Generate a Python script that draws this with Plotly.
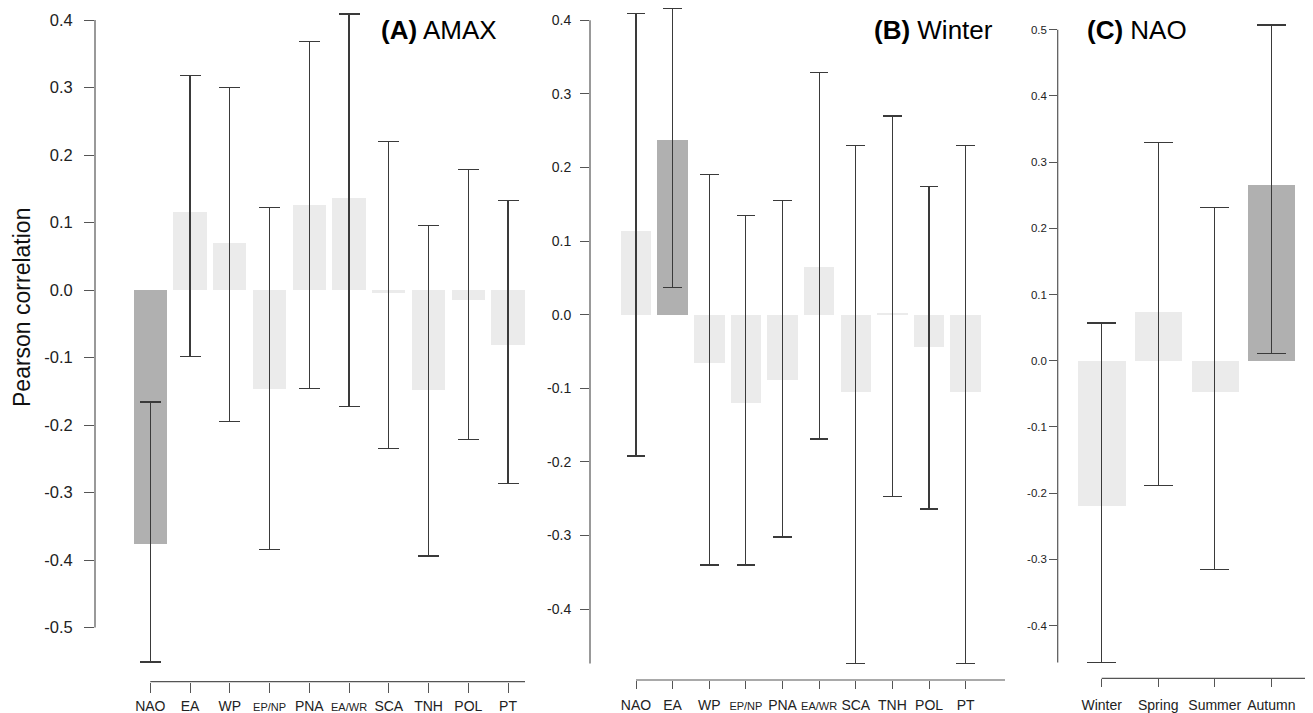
import plotly.graph_objects as go

W, H = 1313, 713
OFF = 8  # the page body margin shifts the figure by 8 px; geometry below is given in window pixels

# ---------------- data ----------------
indices = ["NAO", "EA", "WP", "EP/NP", "PNA", "EA/WR", "SCA", "TNH", "POL", "PT"]

amax_values = [-0.377, 0.115, 0.069, -0.146, 0.126, 0.137, -0.005, -0.148, -0.015, -0.082]
amax_upper = [-0.166, 0.318, 0.300, 0.122, 0.368, 0.409, 0.220, 0.096, 0.178, 0.133]
amax_lower = [-0.551, -0.098, -0.195, -0.384, -0.146, -0.173, -0.235, -0.394, -0.222, -0.287]
amax_signif = [True, False, False, False, False, False, False, False, False, False]

winter_values = [0.114, 0.237, -0.066, -0.120, -0.089, 0.065, -0.105, 0.002, -0.044, -0.105]
winter_upper = [0.409, 0.416, 0.190, 0.135, 0.155, 0.329, 0.230, 0.270, 0.174, 0.230]
winter_lower = [-0.192, 0.037, -0.340, -0.340, -0.302, -0.169, -0.474, -0.247, -0.264, -0.474]
winter_signif = [False, True, False, False, False, False, False, False, False, False]

seasons = ["Winter", "Spring", "Summer", "Autumn"]
nao_values = [-0.219, 0.073, -0.048, 0.265]
nao_upper = [0.057, 0.330, 0.231, 0.507]
nao_lower = [-0.456, -0.188, -0.315, 0.011]
nao_signif = [False, False, False, True]

ab_yticks = [0.4, 0.3, 0.2, 0.1, 0.0, -0.1, -0.2, -0.3, -0.4, -0.5]
c_yticks = [0.5, 0.4, 0.3, 0.2, 0.1, 0.0, -0.1, -0.2, -0.3, -0.4]

LIGHT = "#EBEBEB"
DARK = "#B0B0B0"
INK = "#3a3a3a"
FONT = "Liberation Sans, Arial, sans-serif"

def small(lbl):
    if "/" in lbl:
        return '<span style="font-size:11px">%s</span>' % lbl
    return lbl

def pxp(x):  # window px -> paper x
    return (x - OFF) / W

def pyp(y):  # window px -> paper y
    return 1 - (y - OFF) / H

TOP = OFF  # top of plot areas in window px

# ---------------- panel geometry (window pixels) ----------------
panels = [
    dict(labels=indices, vals=amax_values, up=amax_upper, lo=amax_lower, sig=amax_signif,
         left=95, right=525, bottom=681.7, zero=290.0, ppu=675.0, cat0=150.3, step=39.75,
         yticks=[t for t in ab_yticks], yline=(-0.5, 0.4), cap=10.5, yticklen=10, xticklen=10,
         yfont=16.5, ystand=8, xstand=1, title="<b>(A)</b> AMAX", tx=438.5),
    dict(labels=indices, vals=winter_values, up=winter_upper, lo=winter_lower, sig=winter_signif,
         left=590, right=1005, bottom=680.0, zero=314.7, ppu=736.0, cat0=636.0, step=36.63,
         yticks=[t for t in ab_yticks if t >= -0.4], yline=(min(winter_lower), 0.4), cap=9.3,
         yticklen=9, xticklen=7.5, yfont=14, ystand=6, xstand=5, title="<b>(B)</b> Winter", tx=933.5),
    dict(labels=seasons, vals=nao_values, up=nao_upper, lo=nao_lower, sig=nao_signif,
         left=1057.7, right=1313 + OFF, bottom=678.3, zero=360.7, ppu=662.0, cat0=1101.7, step=56.53,
         yticks=c_yticks, yline=(min(nao_lower), 0.5), cap=14.3, yticklen=7.5, xticklen=7.5,
         yfont=11.5, ystand=0, xstand=6, title="<b>(C)</b> NAO", tx=1136.5),
]

fig = go.Figure()
shapes = []
annotations = []

for i, p in enumerate(panels):
    ax = "" if i == 0 else str(i + 1)
    n = len(p["labels"])
    xs = list(range(n))
    err_plus = [u - v for u, v in zip(p["up"], p["vals"])]
    err_minus = [v - l for v, l in zip(p["vals"], p["lo"])]
    fig.add_trace(go.Bar(
        x=xs, y=p["vals"], width=0.833,
        marker=dict(color=[DARK if s else LIGHT for s in p["sig"]], line=dict(width=0)),
        error_y=dict(type="data", symmetric=False, array=err_plus, arrayminus=err_minus,
                     color=INK, thickness=1.2, width=p["cap"]),
        xaxis="x" + ax, yaxis="y" + ax, showlegend=False, hoverinfo="skip",
    ))
    y_top = (p["zero"] - TOP) / p["ppu"]
    y_bot = -(p["bottom"] - p["zero"]) / p["ppu"]
    x_left = -(p["cat0"] - p["left"]) / p["step"]
    x_right = (n - 1) + (p["right"] - (p["cat0"] + (n - 1) * p["step"])) / p["step"]
    xdom = [pxp(p["left"]), min(1.0, pxp(p["right"]))]
    ydom = [pyp(p["bottom"]), 1.0]
    fig.update_layout(**{
        "xaxis" + ax: dict(domain=xdom, range=[x_left, x_right], anchor="y" + ax,
                           tickvals=xs, ticktext=[small(l) for l in p["labels"]],
                           ticks="outside", ticklen=p["xticklen"], tickwidth=1, tickcolor="#555",
                           showline=False, showgrid=False, zeroline=False,
                           ticklabelstandoff=p["xstand"],
                           tickfont=dict(family=FONT, size=14, color="#222"), fixedrange=True),
        "yaxis" + ax: dict(domain=ydom, range=[y_bot, y_top], anchor="x" + ax,
                           tickvals=p["yticks"], ticktext=["%.1f" % t for t in p["yticks"]],
                           ticks="outside", ticklen=p["yticklen"], tickwidth=1, tickcolor="#555",
                           showline=False, showgrid=False, zeroline=False,
                           ticklabelstandoff=p["ystand"],
                           tickfont=dict(family=FONT, size=p["yfont"], color="#222"), fixedrange=True),
    })
    # R-style detached axis lines
    shapes.append(dict(type="line", xref="paper", yref="y" + ax,
                       x0=xdom[0], x1=xdom[0], y0=p["yline"][0], y1=p["yline"][1],
                       line=dict(color="#555", width=1.2)))
    shapes.append(dict(type="line", xref="x" + ax, yref="paper",
                       x0=0, x1=x_right, y0=ydom[0], y1=ydom[0],
                       line=dict(color="#555", width=1.2)))
    annotations.append(dict(text=p["title"], xref="paper", yref="paper",
                            x=pxp(p["tx"]), y=pyp(30), xanchor="center", yanchor="middle",
                            showarrow=False, font=dict(family=FONT, size=26, color="#000")))

annotations.append(dict(text="Pearson correlation", xref="paper", yref="paper",
                        x=pxp(22), y=pyp(308), xanchor="center", yanchor="middle",
                        textangle=-90, showarrow=False,
                        font=dict(family=FONT, size=23, color="#111")))

fig.update_layout(width=W, height=H, margin=dict(l=0, r=0, t=0, b=0, autoexpand=False),
                  paper_bgcolor="white", plot_bgcolor="white",
                  shapes=shapes, annotations=annotations, bargap=0)

fig.write_html("out.html")
